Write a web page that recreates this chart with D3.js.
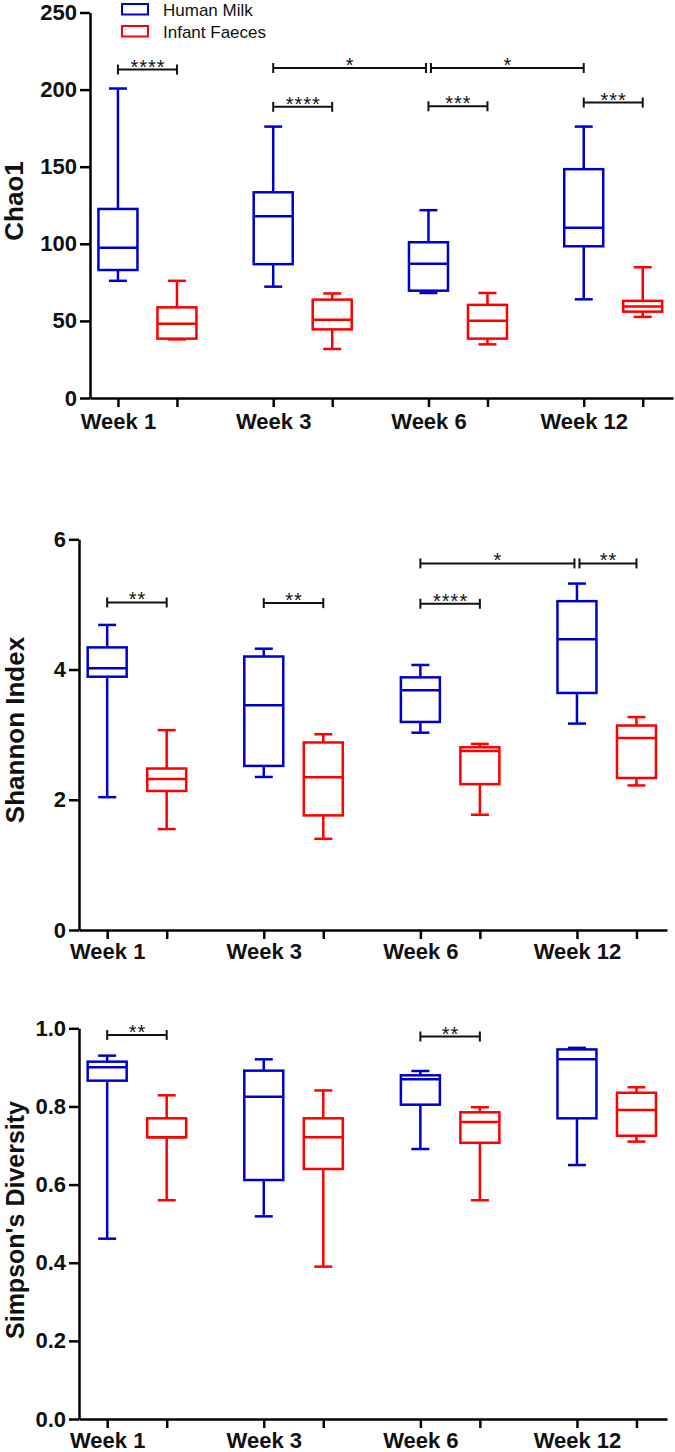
<!DOCTYPE html>
<html>
<head>
<meta charset="utf-8">
<script src="https://cdn.jsdelivr.net/npm/d3@7"></script>
<style>
  body { margin: 0; background: #fff; }
  svg { display: block; font-family: "Liberation Sans", Arial, sans-serif; }
</style>
</head>
<body>
<div id="chart"></div>
<script>
// groups and series
const weeks  = ["Week 1", "Week 3", "Week 6", "Week 12"];
const series = ["Human Milk", "Infant Faeces"];
const colors = ["#0000CC", "#FF0000"];

// box summaries per week: [min, q1, median, q3, max]
const chao1Milk = [
  [76, 83, 97.5, 122.6, 200.7],
  [72.2, 86.8, 117.9, 133.4, 176],
  [68.1, 69.6, 87, 101, 121.8],
  [64, 98.4, 110.4, 148.4, 176]
];
const chao1Faeces = [
  [38, 38.5, 48.1, 58.8, 76],
  [31.8, 44.5, 50.7, 63.8, 67.8],
  [34.8, 38.5, 50.1, 60.4, 68.1],
  [52.6, 56, 59.3, 63, 84.8]
];
const shannonMilk = [
  [2.04, 3.89, 4.02, 4.34, 4.685],
  [2.35, 2.52, 3.45, 4.20, 4.32],
  [3.03, 3.195, 3.68, 3.88, 4.07],
  [3.17, 3.64, 4.465, 5.05, 5.32]
];
const shannonFaeces = [
  [1.55, 2.135, 2.32, 2.48, 3.07],
  [1.40, 1.76, 2.345, 2.88, 3.006],
  [1.77, 2.24, 2.75, 2.806, 2.857],
  [2.22, 2.335, 2.95, 3.14, 3.27]
];
const simpsonMilk = [
  [0.4615, 0.866, 0.900, 0.9146, 0.930],
  [0.5187, 0.6117, 0.825, 0.8916, 0.9206],
  [0.691, 0.8045, 0.8695, 0.8797, 0.8907],
  [0.650, 0.7696, 0.921, 0.946, 0.950]
];
const simpsonFaeces = [
  [0.56, 0.721, 0.721, 0.7696, 0.8285],
  [0.39, 0.64, 0.721, 0.7696, 0.841],
  [0.56, 0.707, 0.760, 0.785, 0.798],
  [0.71, 0.725, 0.791, 0.835, 0.849]
];

// y ticks
const chao1Ticks   = [0, 50, 100, 150, 200, 250];
const shannonTicks = [0, 2, 4, 6];
const simpsonTicks = [0, 0.2, 0.4, 0.6, 0.8, 1.0];

// significance brackets: [week from, series from, week to, series to, y value, label]
const chao1Sig = [
  [0, 0, 0, 1, 213, "****"],
  [1, 0, 2, 0, 214, "*"],
  [2, 0, 3, 0, 214, "*"],
  [1, 0, 1, 1, 188.8, "****"],
  [2, 0, 2, 1, 189.2, "***"],
  [3, 0, 3, 1, 191.6, "***"]
];
const shannonSig = [
  [0, 0, 0, 1, 5.03, "**"],
  [1, 0, 1, 1, 5.02, "**"],
  [2, 0, 2, 1, 5.01, "****"],
  [2, 0, 3, 0, 5.63, "*"],
  [3, 0, 3, 1, 5.63, "**"]
];
const simpsonSig = [
  [0, 0, 0, 1, 0.983, "**"],
  [2, 0, 2, 1, 0.979, "**"]
];

const svg = d3.select("#chart")
  .append("svg")
  .attr("width", 675)
  .attr("height", 1452);

const panels = [
  { title: "Chao1", data: [chao1Milk, chao1Faeces], ticks: chao1Ticks, fmt: d3.format("d"),
    sig: chao1Sig, left: 90, right: 673, bottom: 398, top: 12.5, titleX: 23, titleY: 201, titleSize: 26, legend: true, labelPad: 6 },
  { title: "Shannon Index", data: [shannonMilk, shannonFaeces], ticks: shannonTicks, fmt: d3.format("d"),
    sig: shannonSig, left: 79, right: 667, bottom: 930, top: 539.3, titleX: 24, titleY: 730, titleSize: 26, legend: false, labelPad: 4 },
  { title: "Simpson's Diversity", data: [simpsonMilk, simpsonFaeces], ticks: simpsonTicks, fmt: d3.format(".1f"),
    sig: simpsonSig, left: 79, right: 667, bottom: 1419, top: 1028.3, titleX: 24, titleY: 1220, titleSize: 25, legend: false, labelPad: 4 }
];

const seriesOffset = 0.38;

panels.forEach(p => {
  const x = d3.scaleLinear().domain([-0.18, 3.575]).range([p.left, p.right]);
  const y = d3.scaleLinear()
    .domain([p.ticks[0], p.ticks[p.ticks.length - 1]])
    .range([p.bottom, p.top]);
  const pos = (g, s) => x(g + s * seriesOffset);

  const g = svg.append("g");

  // y axis
  const yAx = g.append("g")
    .attr("transform", `translate(${p.left},0)`)
    .call(d3.axisLeft(y).tickValues(p.ticks).tickFormat(p.fmt).tickSize(10).tickSizeOuter(0).tickPadding(3));

  // x axis, a tick under each box, label under the milk box
  const allPos = [];
  weeks.forEach((w, i) => series.forEach((s, j) => allPos.push(i + j * seriesOffset)));
  const xAx = g.append("g")
    .attr("transform", `translate(0,${p.bottom})`)
    .call(d3.axisBottom(x).tickValues(allPos).tickSize(9).tickSizeOuter(0).tickPadding(p.labelPad)
      .tickFormat(d => {
        const i = weeks.findIndex((w, k) => Math.abs(k - d) < 1e-6);
        return i >= 0 ? weeks[i] : "";
      }));

  [yAx, xAx].forEach(ax => {
    ax.select(".domain").attr("stroke", "#000").attr("stroke-width", 2.5);
    ax.selectAll(".tick line").attr("stroke", "#000").attr("stroke-width", 2.5);
    ax.selectAll(".tick text")
      .attr("fill", "#111")
      .style("font-size", "22px")
      .style("font-weight", "bold")
      .style("font-family", "'Liberation Sans', Arial, sans-serif");
  });

  // axis title
  g.append("text")
    .attr("transform", `translate(${p.titleX},${p.titleY}) rotate(-90)`)
    .attr("text-anchor", "middle")
    .style("font-size", p.titleSize + "px")
    .style("font-weight", "bold")
    .attr("fill", "#111")
    .text(p.title);

  // boxes
  const boxHalf = 19.5, capHalf = 9;
  p.data.forEach((rows, s) => {
    rows.forEach((b, i) => {
      const cx = pos(i, s);
      const [mn, q1, md, q3, mx] = b;
      const bg = g.append("g")
        .attr("stroke", colors[s])
        .attr("stroke-width", 2.5)
        .attr("fill", "none");
      bg.append("line").attr("x1", cx).attr("x2", cx).attr("y1", y(mx)).attr("y2", y(q3));
      bg.append("line").attr("x1", cx).attr("x2", cx).attr("y1", y(q1)).attr("y2", y(mn));
      bg.append("line").attr("x1", cx - capHalf).attr("x2", cx + capHalf).attr("y1", y(mx)).attr("y2", y(mx));
      bg.append("line").attr("x1", cx - capHalf).attr("x2", cx + capHalf).attr("y1", y(mn)).attr("y2", y(mn));
      bg.append("rect")
        .attr("x", cx - boxHalf).attr("width", boxHalf * 2)
        .attr("y", y(q3)).attr("height", y(q1) - y(q3));
      bg.append("line").attr("x1", cx - boxHalf).attr("x2", cx + boxHalf).attr("y1", y(md)).attr("y2", y(md));
    });
  });

  // significance brackets
  p.sig.forEach((d, k) => {
    let x1 = pos(d[0], d[1]), x2 = pos(d[2], d[3]);
    const yy = y(d[4]);
    // brackets meeting at the same point are pulled apart a little
    p.sig.forEach((o, m) => {
      if (m === k || Math.abs(y(o[4]) - yy) > 2) return;
      if (Math.abs(pos(o[0], o[1]) - x2) < 1) x2 -= 2.5;
      if (Math.abs(pos(o[2], o[3]) - x1) < 1) x1 += 2.5;
    });
    const bg = g.append("g").attr("stroke", "#111").attr("stroke-width", 2);
    bg.append("line").attr("x1", x1).attr("x2", x2).attr("y1", yy).attr("y2", yy);
    bg.append("line").attr("x1", x1).attr("x2", x1).attr("y1", yy - 5).attr("y2", yy + 5);
    bg.append("line").attr("x1", x2).attr("x2", x2).attr("y1", yy - 5).attr("y2", yy + 5);
    g.append("text")
      .attr("x", (x1 + x2) / 2 + 0.5)
      .attr("y", yy + 4)
      .attr("text-anchor", "middle")
      .style("font-size", "20px")
      .style("letter-spacing", "1px")
      .attr("fill", "#111")
      .text(d[5]);
  });

  // legend
  if (p.legend) {
    series.forEach((s, i) => {
      const ly = 4 + i * 22;
      g.append("rect")
        .attr("x", 122).attr("y", ly)
        .attr("width", 26).attr("height", 10.5)
        .attr("fill", "none")
        .attr("stroke", colors[i])
        .attr("stroke-width", 2);
      g.append("text")
        .attr("x", 163).attr("y", ly + 12)
        .style("font-size", "17px")
        .attr("fill", "#111")
        .text(s);
    });
  }
});
</script>
</body>
</html>
